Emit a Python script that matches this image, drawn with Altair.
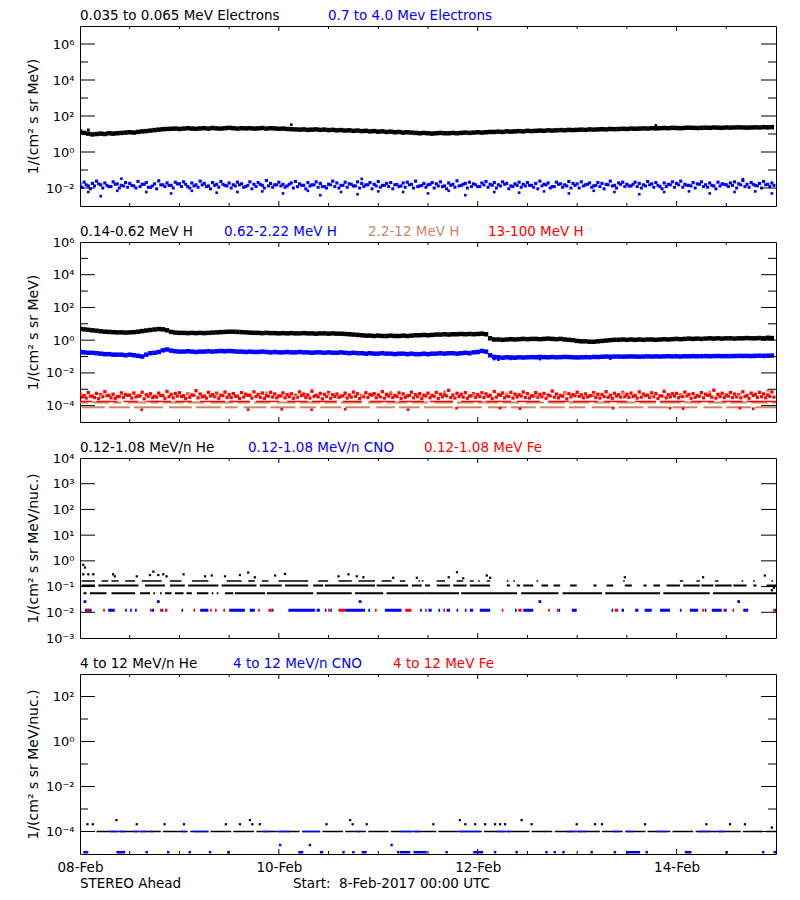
import altair as alt
import pandas as pd

FONT = "DejaVu Sans"
W, H = 696, 180
BLACK, BLUE, RED, SALMON = "#000000", "#0000ff", "#ff0000", "#cd8566"

# time in hours since 8-Feb-2017 00:00 UTC
HOURS = list(range(168))
HALF = [h + 0.5 for h in HOURS]
X_LABEL_VALUES = [0, 48, 96, 144]
X_LABELS = ["08-Feb", "10-Feb", "12-Feb", "14-Feb"]
X_MINOR_TICKS = [12, 24, 36, 60, 72, 84, 108, 120, 132, 156]

# ---------------- panel 1 : electrons ----------------
e_low = [13.5, 11.5, 10.5, 9.5, 10, 10.5, 10, 11, 10.5, 11,
         11.5, 12, 12.5, 12, 13, 14, 14.5, 15.5, 16.5, 17.5,
         18.5, 19, 19.5, 20, 19, 20, 21, 20, 19.5, 20.5,
         21, 20, 21.5, 20.5, 20, 21, 22, 21, 20, 21,
         20.5, 21, 20, 20.5, 21.5, 20, 21, 20.5, 19.5, 20,
         19, 18.5, 18, 17.5, 18, 17, 17.5, 18, 17, 17.5,
         16.5, 17, 16, 16.5, 15.5, 16, 15, 15.5, 14.5, 15,
         14, 14.5, 13.5, 14, 13, 13.5, 12.5, 13, 12, 12.5,
         12, 11.5, 11, 11.5, 11, 10.5, 11, 11.5, 11, 11,
         11.5, 11, 11.5, 12, 11.5, 12, 12.5, 12, 12.5, 13,
         13, 13.5, 13, 14, 13.5, 14, 14.5, 14, 15, 14.5,
         15, 15.5, 15, 16, 15.5, 16, 16.5, 16, 17, 16.5,
         17, 17.5, 17, 18, 17.5, 18, 18.5, 18, 19, 18.5,
         19, 19.5, 19, 20, 19.5, 20, 20.5, 20, 21, 20.5,
         21, 21.5, 21, 22, 21.5, 21, 22, 22.5, 22, 21.5,
         22, 22.5, 22, 23, 22.5, 22, 23, 22.5, 23, 23.5,
         23, 22.5, 23, 23.5, 23, 24, 23.5, 24]
e_low_extra = [(2, 17), (51, 33), (139, 30)]

e_high_a = [.016, .021, .013, .018, .024, .015, .019, .012, .022, .017, .014, .020,
            .018, .013, .023, .016, .020, .011, .017, .025, .015, .019, .014, .021,
            .017, .022, .012, .019, .015, .024, .018, .013, .020, .016, .023, .014,
            .019, .015, .021, .017, .012, .022, .016, .020, .014, .026, .018, .015,
            .021, .016, .013, .019, .023, .017, .014, .020, .015, .022, .018, .012,
            .016, .024, .019, .014, .021, .017, .013, .022, .018, .015, .020, .016,
            .023, .014, .018, .020, .015, .012, .019, .021, .016, .024, .013, .018,
            .015, .020, .017, .022, .013, .019, .016, .025, .014, .018, .021, .017,
            .012, .019, .023, .016, .020, .015, .022, .018, .013, .017, .021, .016,
            .020, .014, .018, .024, .016, .019, .012, .021, .017, .015, .023, .018,
            .017, .022, .015, .019, .013, .020, .018, .016, .024, .014, .019, .021,
            .016, .013, .021, .018, .015, .023, .017, .020, .012, .019, .016, .022,
            .018, .024, .016, .014, .020, .017, .022, .015, .019, .013, .021, .017,
            .015, .019, .022, .017, .026, .016, .020, .014, .018, .023, .016, .019]
e_high_b = [.011, .015, .009, .013, .017, .010, .014, .012, .016, .010, .013, .011,
            .014, .010, .012, .016, .011, .013, .009, .015, .012, .014, .010, .017,
            .012, .016, .010, .013, .011, .015, .012, .009, .014, .011, .016, .013,
            .010, .013, .015, .011, .014, .009, .012, .016, .010, .013, .011, .015,
            .013, .011, .016, .010, .012, .014, .009, .013, .015, .011, .012, .010,
            .015, .012, .010, .014, .011, .016, .013, .010, .012, .015, .009, .013,
            .011, .014, .012, .009, .016, .013, .011, .015, .010, .012, .014, .011,
            .016, .010, .013, .012, .009, .014, .011, .013, .016, .010, .012, .015,
            .012, .015, .011, .014, .010, .013, .016, .009, .012, .014, .011, .013,
            .014, .011, .009, .013, .015, .010, .012, .016, .011, .013, .010, .014,
            .010, .013, .016, .011, .014, .012, .009, .015, .013, .010, .016, .012,
            .013, .016, .012, .010, .013, .015, .011, .014, .009, .012, .015, .011,
            .015, .011, .014, .013, .010, .016, .012, .011, .014, .009, .013, .016,
            .012, .014, .010, .015, .012, .011, .016, .013, .010, .015, .012, .014]
e_high_extra = [(2, .006), (5, .0035), (9, .007), (10, .033), (16, .006), (22, .005),
                (27, .007), (33, .0055), (38, .006), (44, .0065), (49, .005), (55, .007),
                (58, .004), (63, .006), (67, .0045), (68, .032), (72, .0065), (78, .006),
                (84, .005), (89, .007), (93, .004), (100, .006), (106, .0055), (112, .0065),
                (118, .005), (124, .007), (129, .006), (135, .0045), (141, .006),
                (147, .0065), (152, .005), (158, .006), (160, .031), (163, .0065), (167, .005)]

# ---------------- panel 2 : protons ----------------
h_1 = [5.0, 4.6, 4.3, 4.0, 3.8, 3.5, 3.3, 3.2, 3.1, 3.0,
       3.0, 2.9, 3.0, 3.1, 3.3, 3.6, 3.9, 4.2, 4.5, 4.8,
       4.6, 4.0, 3.2, 2.9, 2.8, 2.8, 2.7, 2.8, 2.7, 2.8,
       2.7, 2.8, 2.9, 3.0, 3.1, 3.2, 3.3, 3.3, 3.2, 3.1,
       3.0, 2.9, 2.8, 2.8, 2.7, 2.8, 2.7, 2.7, 2.6, 2.7,
       2.6, 2.7, 2.6, 2.6, 2.7, 2.6, 2.6, 2.5, 2.6, 2.6,
       2.5, 2.6, 2.5, 2.5, 2.4, 2.3, 2.2, 2.1, 2.0, 1.9,
       1.9, 1.8, 1.9, 1.8, 1.8, 1.9, 1.8, 1.8, 1.9, 1.8,
       1.9, 2.0, 2.0, 2.1, 2.0, 2.1, 2.2, 2.2, 2.3, 2.2,
       2.3, 2.3, 2.4, 2.3, 2.4, 2.3, 2.4, 2.5, 2.3, 1.3,
       1.1, 1.1, 1.05, 1.1, 1.15, 1.1, 1.15, 1.2, 1.15, 1.2,
       1.2, 1.15, 1.2, 1.25, 1.2, 1.15, 1.2, 1.1, 1.05, 1.0,
       0.9, 0.85, 0.85, 0.8, 0.8, 0.85, 0.9, 0.95, 1.0, 1.05,
       1.05, 1.1, 1.05, 1.1, 1.05, 1.1, 1.05, 1.1, 1.1, 1.05,
       1.1, 1.15, 1.1, 1.15, 1.2, 1.15, 1.2, 1.25, 1.2, 1.25,
       1.2, 1.25, 1.3, 1.25, 1.3, 1.25, 1.3, 1.3, 1.25, 1.3,
       1.3, 1.35, 1.3, 1.3, 1.35, 1.3, 1.4, 1.35]
h_2 = [0.19, 0.18, 0.17, 0.17, 0.16, 0.15, 0.14, 0.14, 0.13, 0.13,
       0.13, 0.12, 0.13, 0.12, 0.11, 0.10, 0.13, 0.16, 0.17, 0.19,
       0.24, 0.27, 0.23, 0.21, 0.20, 0.20, 0.21, 0.20, 0.19, 0.20,
       0.20, 0.21, 0.20, 0.21, 0.22, 0.21, 0.22, 0.21, 0.20, 0.20,
       0.19, 0.20, 0.19, 0.19, 0.20, 0.19, 0.18, 0.19, 0.18, 0.18,
       0.19, 0.18, 0.18, 0.19, 0.18, 0.18, 0.17, 0.18, 0.18, 0.17,
       0.18, 0.17, 0.17, 0.18, 0.17, 0.16, 0.17, 0.16, 0.16, 0.15,
       0.16, 0.15, 0.15, 0.16, 0.15, 0.15, 0.14, 0.15, 0.15, 0.14,
       0.15, 0.14, 0.14, 0.15, 0.14, 0.15, 0.15, 0.16, 0.15, 0.16,
       0.16, 0.15, 0.16, 0.17, 0.16, 0.18, 0.19, 0.22, 0.20, 0.12,
       0.095, 0.09, 0.085, 0.09, 0.088, 0.085, 0.09, 0.087, 0.09, 0.092,
       0.09, 0.095, 0.092, 0.09, 0.094, 0.09, 0.092, 0.095, 0.093, 0.09,
       0.088, 0.09, 0.092, 0.09, 0.095, 0.093, 0.097, 0.1, 0.098, 0.1,
       0.1, 0.098, 0.1, 0.102, 0.1, 0.098, 0.1, 0.103, 0.1, 0.102,
       0.1, 0.103, 0.105, 0.102, 0.104, 0.1, 0.105, 0.103, 0.106, 0.104,
       0.105, 0.107, 0.104, 0.106, 0.108, 0.105, 0.107, 0.106, 0.108, 0.11,
       0.108, 0.11, 0.107, 0.11, 0.112, 0.11, 0.113, 0.115]
h_2_extra = [(100, 0.07), (101, 0.065), (104, 0.072), (111, 0.07), (128, 0.075)]

# 13-100 MeV H, in units of 1e-4
h_4_a = [5.2, 4.1, 6.3, 3.8, 5.6, 4.7, 7.1, 4.3, 5.0, 3.6, 6.0, 4.8,
         4.4, 5.9, 3.9, 6.6, 4.6, 5.3, 3.7, 5.8, 4.2, 7.4, 4.9, 5.5,
         6.1, 4.0, 5.4, 4.5, 8.2, 5.1, 3.9, 6.4, 4.7, 5.7, 4.3, 6.8,
         4.6, 5.5, 3.8, 6.2, 5.0, 4.4, 7.0, 4.8, 5.9, 4.1, 6.5, 5.2,
         3.9, 6.0, 4.7, 5.3, 4.2, 6.9, 5.0, 4.5, 7.6, 4.3, 5.6, 4.9,
         6.3, 4.6, 5.1, 3.8, 5.8, 4.4, 6.7, 5.3, 4.0, 6.1, 4.8, 5.4,
         4.5, 7.2, 4.9, 5.6, 4.1, 6.0, 5.2, 3.9, 6.6, 4.7, 5.5, 4.3,
         5.8, 4.2, 6.4, 5.0, 4.6, 8.5, 4.4, 5.7, 4.9, 6.2, 3.8, 5.3,
         4.7, 6.1, 5.2, 4.3, 7.3, 4.8, 5.9, 4.1, 6.5, 5.0, 4.6, 6.8,
         5.4, 4.0, 6.2, 4.9, 5.6, 4.4, 7.8, 5.1, 4.2, 6.0, 5.3, 4.7,
         6.6, 4.5, 5.2, 3.9, 6.3, 5.0, 4.8, 7.1, 4.3, 5.7, 4.6, 6.4,
         4.9, 5.8, 4.2, 6.9, 5.1, 4.4, 6.1, 5.5, 4.0, 7.5, 4.7, 5.3,
         5.6, 4.3, 6.7, 4.8, 5.4, 4.1, 6.2, 5.0, 4.6, 8.8, 4.9, 5.7,
         4.4, 6.3, 5.1, 4.7, 7.0, 4.2, 5.8, 4.9, 6.5, 5.2, 4.5, 6.9]
h_4_b = [3.3, 2.9, 3.8, 3.1, 2.7, 3.5, 4.0, 3.0, 2.8, 3.6, 3.2, 4.2,
         2.9, 3.4, 3.9, 2.6, 3.7, 3.1, 3.3, 4.1, 2.8, 3.5, 3.0, 3.8,
         3.6, 2.7, 3.2, 4.3, 3.0, 3.4, 2.9, 3.9, 3.5, 2.8, 4.0, 3.1,
         3.1, 3.7, 2.8, 3.3, 4.2, 2.9, 3.6, 3.2, 2.7, 3.8, 3.4, 3.0,
         3.9, 3.0, 3.5, 2.8, 3.3, 4.1, 3.1, 2.9, 3.7, 3.4, 2.6, 3.6,
         2.8, 3.6, 3.2, 4.0, 2.9, 3.3, 3.7, 2.7, 3.5, 3.1, 4.3, 3.0,
         3.4, 2.9, 3.8, 3.1, 3.6, 2.8, 3.2, 4.1, 3.0, 3.5, 2.7, 3.9,
         3.0, 3.7, 2.8, 3.4, 3.9, 3.1, 2.9, 3.6, 3.3, 2.8, 4.0, 3.2,
         3.5, 3.1, 3.7, 2.7, 3.3, 4.2, 3.0, 3.6, 2.9, 3.4, 3.8, 3.1,
         2.9, 3.8, 3.2, 3.5, 2.8, 3.9, 3.3, 3.0, 3.7, 2.6, 3.4, 4.0,
         3.7, 3.0, 3.4, 4.1, 3.1, 2.9, 3.6, 3.2, 2.8, 3.8, 3.3, 3.5,
         3.2, 3.6, 2.9, 3.3, 4.0, 3.1, 3.5, 2.7, 3.9, 3.0, 3.4, 3.8,
         3.0, 3.5, 3.9, 2.8, 3.2, 3.7, 3.0, 4.2, 3.3, 2.9, 3.6, 3.1,
         3.8, 3.1, 3.4, 3.0, 3.6, 2.8, 4.1, 3.2, 3.5, 3.0, 3.7, 3.3]
h_4_low = [(14.9, 0.56), (40.6, 0.56), (48.7, 0.6), (55.9, 0.56), (64, 0.6), (79.2, 0.56),
           (90.9, 0.7), (101.4, 0.7), (106.2, 0.65), (128.7, 0.7), (142.4, 0.7),
           (145.6, 0.65), (159.3, 0.7), (162.5, 0.65)]
h_4_row = (1.8, [(0, 3), (4, 9), (10.5, 14), (16, 22), (23, 27), (29, 35), (36, 41),
                 (42.5, 48), (50, 55), (56, 62), (63.5, 68), (70, 76), (77, 83), (84.5, 90),
                 (92, 97), (98, 104), (105.5, 111), (113, 118), (119, 125), (126.5, 132),
                 (134, 139), (140, 146), (147.5, 153), (155, 160), (161, 168)])
# 2.2-12 MeV H (units of 1e-4): quantised rows plus scattered points
h_3_rows = [(1.56, [(0, 2), (3, 7), (8, 10), (11.5, 16), (17, 19), (20, 25), (26, 30),
                    (31.5, 37), (38, 41), (42, 46), (47.5, 52), (53, 58), (59, 62), (63, 68),
                    (69.5, 73), (74, 79), (80, 84), (85.5, 90), (91, 95), (96, 101),
                    (102, 106), (107.5, 112), (113, 117), (118, 123), (124, 128),
                    (129.5, 134), (135, 139), (140, 145), (146, 150), (151.5, 156),
                    (157, 161), (162, 166), (167, 168)]),
            (0.79, [(0.5, 6), (7, 12), (13, 20), (21.5, 27), (28, 34), (35, 38), (39.5, 45),
                    (46, 52), (53, 57), (58, 63), (64, 70), (71.5, 76), (77, 82), (83, 90),
                    (91, 97), (98.5, 103), (104, 110), (111, 117), (118, 122), (123.5, 129),
                    (130, 136), (137, 142), (143, 149), (150.5, 155), (156, 162), (163, 168)])]
h_3_pts = [(5, 4.0), (17, 3.5), (26, 5.5), (33, 4.5), (45, 6.0), (52, 3.8), (60, 5.0),
           (68, 4.2), (75, 6.5), (82, 3.6), (88, 7.0), (95, 4.4), (103, 5.2), (110, 3.9),
           (117, 6.2), (124, 4.7), (131, 5.8), (138, 3.7), (145, 4.9), (152, 6.8),
           (159, 4.1), (166, 8.5)]

# ---------------- panel 3 : 0.12-1.08 MeV/n heavy ions ----------------
he_lo_rows = [
    (0.055, [(0.8, 1.6), (2.4, 6.4), (7.6, 13.3), (14.5, 16.9), (17.7, 18.1), (19.3, 19.7),
             (20.5, 22.1), (22.9, 25), (25.7, 27), (28.2, 31), (31.8, 32.2), (33, 33.4),
             (35, 37), (37.4, 44.7), (45.1, 56.3), (57.1, 65.6), (66.4, 73.2), (74, 83.3),
             (83.3, 91.5), (92, 105.5), (106.5, 115.5), (116.5, 126), (126.8, 140),
             (140.8, 152), (152.8, 168)]),
    (0.11, [(0.4, 3.6), (4.4, 14.1), (15.7, 20.5), (21.7, 25.3), (26.1, 33.4), (34.2, 42.6),
            (43.4, 48.7), (49.5, 55.1), (56.3, 58.7), (59.1, 71.2), (71.6, 79.2), (80.1, 82.5),
            (83.3, 84.5), (86.1, 89.3), (90.1, 93.3), (94.1, 99), (103, 103.8), (105.4, 106.2),
            (107, 109.4), (111.4, 113), (114.3, 115.9), (118.3, 119.9), (123.9, 124.7),
            (127.1, 128.7), (131.5, 133.2), (136, 136.8), (138.4, 140), (141.6, 144.8),
            (145.6, 149.6), (150, 152.9), (153.3, 157.3), (157.7, 160.9), (162.5, 163.3),
            (165.7, 168)]),
    (0.165, [(0.4, 3.6), (5.2, 6.8), (7.6, 9.3), (10.9, 13.3), (14.9, 19.7), (21.7, 24.5),
             (27, 31), (35.4, 39), (40.6, 42.2), (43.9, 45.5), (47.9, 55.1), (57.5, 59.9),
             (62.4, 65.6), (67.2, 71.2), (72.8, 75.2), (77.2, 78.5), (81.7, 82.1),
             (82.5, 82.9), (86.1, 88.1), (90.9, 92.5), (94.1, 95), (96.1, 96.5), (98.2, 99),
             (103, 103.4), (104.6, 105), (110.2, 110.6), (131.1, 131.5), (144.8, 145.6),
             (148.8, 149.6), (153.3, 154.1), (159.7, 160.1), (162.5, 162.9), (166.9, 167.3)]),
]
he_lo_pts = [(0.8, 0.7), (1.2, 0.55), (0.8, 0.3), (2.0, 0.3), (3.2, 0.3), (8, 0.3), (8.4, 0.25),
             (13.7, 0.25), (16.9, 0.28), (17.7, 0.38), (18.9, 0.28), (20.1, 0.3), (20.9, 0.25),
             (25, 0.3), (30.2, 0.25), (31.8, 0.27), (35, 0.25), (38.6, 0.28), (40.6, 0.35),
             (42.2, 0.23), (47.1, 0.27), (49.5, 0.31), (62.4, 0.25), (64.8, 0.3), (66.8, 0.25),
             (68.4, 0.23), (75.6, 0.22), (81.3, 0.22), (89, 0.23), (91, 0.36), (92.5, 0.21),
             (98.2, 0.27), (99, 0.22), (131.5, 0.23), (150.4, 0.23), (165.3, 0.27),
             (167, 0.072), (167.5, 0.09)]
cno_lo_row = (0.012, [(1.2, 2.8), (6.8, 8.4), (10.9, 11.3), (12.1, 12.5), (13.3, 13.7),
                      (17.3, 17.9), (19.7, 20.1), (24.5, 24.9), (29, 31), (36, 39.8), (41, 42.2),
                      (46.3, 46.7), (50.3, 56.7), (57.1, 57.9), (59.1, 59.5), (60.4, 60.8),
                      (64, 68.8), (69.6, 70), (73.6, 77.6), (82.1, 82.5), (84.1, 84.9),
                      (86.5, 86.9), (88.5, 89.3), (90.9, 91.3), (92.9, 93.3), (94.1, 94.9),
                      (96.5, 99), (105, 105.4), (107, 109.4), (115.5, 115.9), (118.7, 119.9),
                      (128.3, 128.7), (130.7, 131.3), (134, 134.8), (136.3, 138), (140, 142.4),
                      (144.8, 145.2), (147.2, 149.2), (150.8, 151.2), (152.5, 154.9),
                      (155.7, 156.1), (160.1, 161.3), (167.7, 168)])
cno_lo_pts = [(1.2, 0.026), (18.9, 0.026), (67.6, 0.026), (111, 0.026), (159, 0.026)]
fe_lo_row = (0.012, [(1.6, 2.4), (5.6, 6.0), (16.9, 17.3), (19.3, 19.7), (20.5, 21.1),
                     (27.4, 27.8), (31.4, 31.8), (32.6, 33), (34.6, 35), (43, 43.4), (45.5, 46.3),
                     (59.9, 60.3), (62.4, 64), (71.2, 71.6), (78.5, 80), (83.3, 83.7),
                     (87.7, 88.1), (101.8, 102.2), (105.8, 106.6), (113, 113.4), (115.1, 115.5),
                     (129.1, 129.9), (150.2, 150.6), (155.3, 155.7), (157.5, 157.9),
                     (167.3, 167.7)])

# ---------------- panel 4 : 4-12 MeV/n heavy ions ----------------
he_hi_row = (1e-4, [(4, 9), (9.6, 14), (14.5, 19.5), (20, 26), (26.6, 31), (31.5, 36.5),
                    (37, 42), (42.6, 47.5), (48, 53), (53.6, 58), (58.5, 63.5), (64, 69),
                    (69.6, 74.5), (75, 80), (80.6, 86), (86.5, 91), (91.6, 97), (97.5, 102.5),
                    (103, 108.5), (109, 114), (114.6, 119.5), (120, 125.5), (126, 131),
                    (131.6, 136.5), (137, 142.5), (143, 148), (148.6, 153.5), (154, 159.5),
                    (160, 165), (165.6, 168)])
he_hi_pts = [(1.8, 2.1e-4), (3.1, 2.1e-4), (8.8, 3.2e-4), (13.7, 2.1e-4), (20.4, 2.1e-4),
             (25.1, 2.1e-4), (35.2, 2.1e-4), (38.6, 2.1e-4), (41, 3.2e-4), (41.6, 2.1e-4),
             (43.4, 2.1e-4), (59.5, 2.1e-4), (65.2, 3.2e-4), (65.8, 2.1e-4), (69.2, 2.1e-4),
             (85.3, 2.1e-4), (91.7, 3.2e-4), (93, 2.1e-4), (95.4, 2.1e-4), (97.8, 2.1e-4),
             (100.2, 2.1e-4), (101.4, 2.1e-4), (102.6, 2.1e-4), (106.6, 3.2e-4), (109, 2.1e-4),
             (119.9, 2.1e-4), (124.3, 2.1e-4), (126, 2.1e-4), (136.4, 2.1e-4), (151.2, 2.1e-4),
             (156.9, 2.1e-4), (160.5, 2.1e-4), (167, 1.5e-4)]
cno_hi_row = (1e-4, [(7.2, 10.9), (12.9, 16.1), (16.9, 17.7), (24.5, 25.7), (27.4, 31),
                     (44.2, 45.9), (47.5, 50.7), (53.9, 57.9), (66.8, 67.6), (77.2, 82.1),
                     (90.9, 96.5), (100.6, 103.8), (112, 112.4), (117.5, 122.3), (124.5, 124.9),
                     (128.7, 130.3), (131.9, 133.6), (139.2, 141.6), (149.2, 152.1),
                     (153.3, 155.7), (164, 164.4)])
cno_hi_low = (1.2e-5, [(0.8, 2), (8.8, 10.9), (52.7, 53.9), (57.9, 58.7), (68, 69.2),
                       (77.2, 79.7), (80.5, 83.7), (94.9, 97.3), (131.9, 135.2), (146, 147.6)])
cno_hi_pts = [(16.1, 1.2e-5), (21.3, 1.2e-5), (26.5, 1.2e-5), (31.4, 1.2e-5), (35.8, 1.2e-5),
              (63.6, 1.2e-5), (66, 1.2e-5), (76.8, 1.2e-5), (88.5, 1.2e-5), (100.2, 1.2e-5),
              (105.4, 1.2e-5), (112.6, 1.2e-5), (114.6, 1.2e-5), (116.7, 1.2e-5),
              (123.5, 1.2e-5), (129.1, 1.2e-5), (136.8, 1.2e-5), (156.1, 1.2e-5),
              (164.9, 1.2e-5), (167.7, 1.2e-5), (48.3, 2.5e-5), (55.5, 2.5e-5), (75.2, 2.5e-5)]

for arr in (e_low, e_high_a, e_high_b, h_1, h_2, h_4_a, h_4_b):
    assert len(arr) == 168, len(arr)

SUP = {"-": "\u207b", "0": "\u2070", "1": "\u00b9", "2": "\u00b2", "3": "\u00b3",
       "4": "\u2074", "5": "\u2075", "6": "\u2076", "7": "\u2077", "8": "\u2078", "9": "\u2079"}
EXPS = list(range(-6, 9))
LABEL_ARR = "[" + ",".join("'10" + "".join(SUP[c] for c in str(e)) + "'" for e in EXPS) + "]"
Y_LABEL_EXPR = f"{LABEL_ARR}[round(log(datum.value)/LN10)+{-EXPS[0]}]"
X_LABEL_EXPR = "[" + ",".join(f"'{s}'" for s in X_LABELS) + "][round(datum.value/48)]"
TITLE_SIZE = 13.5


def series(hours, values, scale=1.0):
    return pd.DataFrame({"h": hours, "v": [v * scale for v in values]})


def pairs(items, scale=1.0):
    return pd.DataFrame({"h": [a for a, _ in items], "v": [b * scale for _, b in items]})


def segs(row, scale=1.0):
    level, spans = row
    return pd.DataFrame({"h0": [a for a, _ in spans], "h1": [b for _, b in spans],
                         "v": [level * scale] * len(spans)})


def panel(data_layers, ydom, ylab, ymajor, yminor, ytitle, titles, bottom=False):
    if bottom:
        xaxis = alt.Axis(values=X_LABEL_VALUES, labelExpr=X_LABEL_EXPR, ticks=False, tickSize=0,
                         domain=False, grid=False, labelFont=FONT, labelFontSize=TITLE_SIZE,
                         labelColor="black", labelPadding=6, labelFlush=False,
                         labelOverlap=False, title=None)
    else:
        xaxis = None
    yaxis = alt.Axis(values=ylab, labelExpr=Y_LABEL_EXPR, ticks=False, tickSize=0, domain=False,
                     grid=False, labelFont=FONT, labelFontSize=13, labelColor="black",
                     labelPadding=6, labelFlush=False, labelOverlap=False, title=ytitle,
                     titleFont=FONT, titleFontSize=14, titleFontWeight="normal",
                     titleColor="black", titlePadding=9, minExtent=31, maxExtent=31)
    xs = alt.Scale(domain=[0, 168], nice=False, zero=False)
    ys = alt.Scale(type="log", domain=ydom, nice=False)

    def X(f):
        return alt.X(f"{f}:Q", scale=xs, axis=xaxis, title=None)

    Y = alt.Y("v:Q", scale=ys, axis=yaxis)
    layers = []
    for kind, df, color, sz in data_layers:
        if kind == "pt":
            layers.append(alt.Chart(df).mark_square(size=sz, color=color, opacity=1,
                                                    strokeWidth=0, clip=True)
                          .encode(x=X("h"), y=Y))
        else:
            layers.append(alt.Chart(df).mark_rule(color=color, strokeWidth=sz, clip=True)
                          .encode(x=X("h0"), x2=alt.X2("h1"), y=Y))
    # inward tick marks
    for vals, ln in ((ymajor, 15), (yminor, 8)):
        if vals:
            d = pd.DataFrame({"v": vals})
            layers.append(alt.Chart(d).mark_rule(color="black", strokeWidth=1)
                          .encode(y=Y, x=alt.value(0), x2=alt.value(ln)))
            layers.append(alt.Chart(d).mark_rule(color="black", strokeWidth=1)
                          .encode(y=Y, x=alt.value(W), x2=alt.value(W - ln)))
    for vals, ln in ((X_LABEL_VALUES[1:], 5), (X_MINOR_TICKS, 3)):
        d = pd.DataFrame({"h": vals})
        layers.append(alt.Chart(d).mark_rule(color="black", strokeWidth=1)
                      .encode(x=X("h"), y=alt.value(H), y2=alt.value(H - ln)))
        layers.append(alt.Chart(d).mark_rule(color="black", strokeWidth=1)
                      .encode(x=X("h"), y=alt.value(0), y2=alt.value(ln)))
    for text, color, px, py in titles:
        layers.append(alt.Chart(pd.DataFrame({"t": [text]}))
                      .mark_text(align="left", baseline="alphabetic", font=FONT,
                                 fontSize=TITLE_SIZE, color=color)
                      .encode(x=alt.value(px), y=alt.value(py), text="t:N"))
    return alt.layer(*layers).properties(width=W, height=H)


UNIT = "1/(cm\u00b2 s sr MeV)"
UNIT_N = "1/(cm\u00b2 s sr MeV/nuc.)"

p1 = panel(
    [("pt", series(HALF, e_high_b), BLUE, 9), ("pt", series(HOURS, e_high_a), BLUE, 10),
     ("pt", pairs(e_high_extra), BLUE, 7),
     ("pt", series(HOURS, e_low), BLACK, 20), ("pt", pairs(e_low_extra), BLACK, 7)],
    [1e-3, 1e7], [1e-2, 1, 1e2, 1e4, 1e6], [1e-2, 1, 1e2, 1e4, 1e6], [1e-1, 1e1, 1e3, 1e5],
    UNIT,
    [("0.035 to 0.065 MeV Electrons", BLACK, 0, -6), ("0.7 to 4.0 Mev Electrons", BLUE, 248, -6)])

p2 = panel(
    [("seg", segs(h_3_rows[0], 1e-4), SALMON, 2), ("seg", segs(h_3_rows[1], 1e-4), SALMON, 2),
     ("seg", segs(h_4_row, 1e-4), RED, 1.5),
     ("pt", series(HALF, h_4_b, 1e-4), RED, 10), ("pt", series(HOURS, h_4_a, 1e-4), RED, 11),
     ("pt", pairs(h_4_low, 1e-4), RED, 7), ("pt", pairs(h_3_pts, 1e-4), SALMON, 8),
     ("pt", series(HOURS, h_2), BLUE, 20), ("pt", pairs(h_2_extra), BLUE, 7),
     ("pt", series(HOURS, h_1), BLACK, 20)],
    [1e-5, 1e6], [1e-4, 1e-2, 1, 1e2, 1e4, 1e6], [1e-4, 1e-2, 1, 1e2, 1e4],
    [1e-3, 1e-1, 1e1, 1e3, 1e5], UNIT,
    [("0.14-0.62 MeV H", BLACK, 0, -6), ("0.62-2.22 MeV H", BLUE, 144, -6),
     ("2.2-12 MeV H", SALMON, 288, -6), ("13-100 MeV H", RED, 408, -6)])

p3 = panel(
    [("seg", segs(he_lo_rows[0]), BLACK, 2), ("seg", segs(he_lo_rows[1]), BLACK, 2),
     ("seg", segs(he_lo_rows[2]), BLACK, 1.5), ("pt", pairs(he_lo_pts), BLACK, 5),
     ("seg", segs(cno_lo_row), BLUE, 3), ("pt", pairs(cno_lo_pts), BLUE, 8),
     ("seg", segs(fe_lo_row), RED, 3)],
    [1e-3, 1e4], [1e-3, 1e-2, 1e-1, 1, 1e1, 1e2, 1e3, 1e4], [1e-2, 1e-1, 1, 1e1, 1e2, 1e3], [],
    UNIT_N,
    [("0.12-1.08 MeV/n He", BLACK, 0, -6), ("0.12-1.08 MeV/n CNO", BLUE, 168, -6),
     ("0.12-1.08 MeV Fe", RED, 344, -6)])

p4 = panel(
    [("seg", segs(he_hi_row), BLACK, 1.5), ("pt", pairs(he_hi_pts), BLACK, 5),
     ("seg", segs(cno_hi_row), BLUE, 1.5), ("seg", segs(cno_hi_low), BLUE, 2.5),
     ("pt", pairs(cno_hi_pts), BLUE, 6)],
    [1e-5, 1e3], [1e-4, 1e-2, 1, 1e2], [1e-4, 1e-2, 1, 1e2], [1e-3, 1e-1, 1e1], UNIT_N,
    [("4 to 12 MeV/n He", BLACK, 0, -6), ("4 to 12 MeV/n CNO", BLUE, 153, -6),
     ("4 to 12 MeV Fe", RED, 313, -6),
     ("STEREO Ahead", BLACK, 0, H + 34),
     ("Start:\u00a0\u00a08-Feb-2017 00:00 UTC", BLACK, 213, H + 34)],
    bottom=True)

chart = (alt.vconcat(p1, p2, p3, p4, spacing=36, bounds="flush")
         .properties(padding={"left": 17, "top": 0, "right": 5, "bottom": 5},
                     background="white")
         .configure_view(stroke="black", strokeWidth=1))

chart.save("out.html", embed_options={"renderer": "svg", "actions": False})
